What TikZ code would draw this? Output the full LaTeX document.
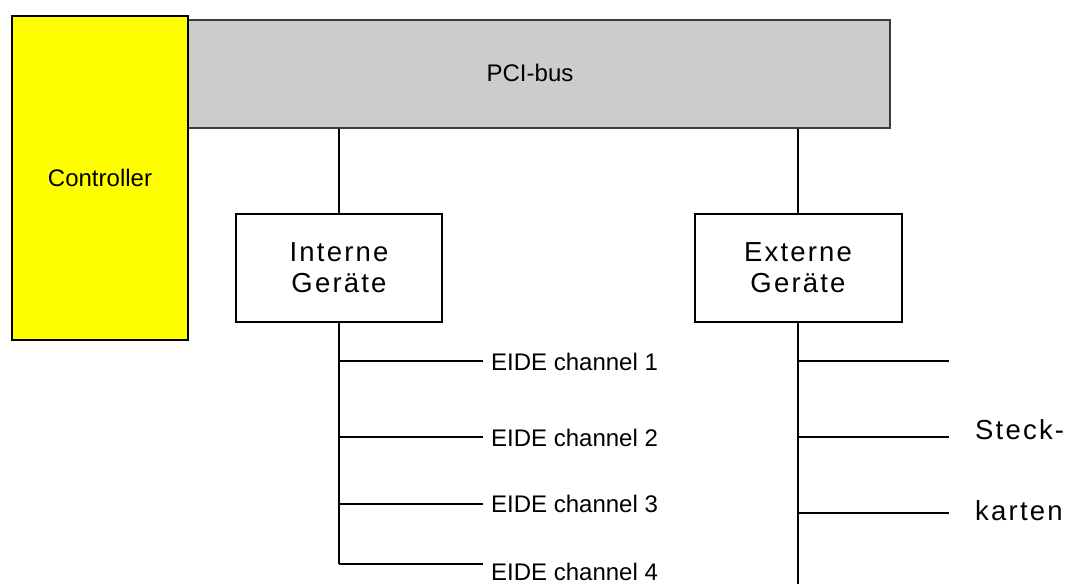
\documentclass[tikz,border=0pt]{standalone}
\usepackage{fontspec}
\setmainfont{Liberation Sans}
\newfontfamily\widefont[LetterSpace=8]{Liberation Sans}
\definecolor{pcigray}{RGB}{204,204,204}
\definecolor{pciedge}{RGB}{60,60,60}
\definecolor{ctrlyellow}{RGB}{255,255,0}
\begin{document}
\begin{tikzpicture}[x=1pt,y=-1pt,
  wire/.style={line width=2pt, draw=black},
  small/.style={font=\fontsize{24}{28}\selectfont},
  big/.style={font=\widefont\fontsize{27.5}{31}\selectfont},
  devbox/.style={draw=black, line width=2pt, fill=white, minimum width=206pt,
    minimum height=108pt, align=center, inner sep=0pt, big},
  lbl/.style={small, anchor=base west, inner sep=0pt},
  biglbl/.style={big, anchor=base west, inner sep=0pt},
]
\useasboundingbox (0,0) rectangle (1068,584);

% bus and controller
\node[draw=pciedge, line width=2pt, fill=pcigray, minimum width=702pt,
  minimum height=108pt, inner sep=0pt] (pci) at (539,74) {};
\node[small] (pcilabel) at (530,73) {PCI-bus};
\node[draw=black, line width=2pt, fill=ctrlyellow, minimum width=176pt,
  minimum height=324pt, inner sep=0pt, small] (ctrl) at (100,178) {Controller};

% device groups
\node[devbox] (intern) at (339,268) {Interne\\Geräte};
\node[devbox, minimum width=207pt] (extern) at (798,268) {Externe\\Geräte};

\draw[wire] (pci.south -| intern.north) -- (intern.north);
\draw[wire] (pci.south -| extern.north) -- (extern.north);

% internal EIDE channels
\coordinate (l1) at (339,361);
\coordinate (l2) at (339,437);
\coordinate (l3) at (339,504);
\coordinate (l4) at (339,564);
\coordinate (le1) at (483,361);
\coordinate (le2) at (483,437);
\coordinate (le3) at (483,504);
\coordinate (le4) at (483,564);
\draw[wire] (intern.south) -- (l4);
\draw[wire] (l1) -- (le1);
\draw[wire] (l2) -- (le2);
\draw[wire] (l3) -- (le3);
\draw[wire] (l4) -- (le4);
\node[lbl] (eide1) at (491,370) {EIDE channel 1};
\node[lbl] (eide2) at (491,446) {EIDE channel 2};
\node[lbl] (eide3) at (491,512) {EIDE channel 3};
\node[lbl] (eide4) at (491,580) {EIDE channel 4};

% external slots
\coordinate (rbot) at (798,584);
\coordinate (r1) at (798,361);
\coordinate (r2) at (798,437);
\coordinate (r3) at (798,513);
\coordinate (re1) at (949,361);
\coordinate (re2) at (949,437);
\coordinate (re3) at (949,513);
\draw[wire] (extern.south) -- (rbot);
\draw[wire] (r1) -- (re1);
\draw[wire] (r2) -- (re2);
\draw[wire] (r3) -- (re3);
\node[biglbl] (steck) at (975,439) {Steck-};
\node[biglbl] (karten) at (975,520) {karten};
\end{tikzpicture}
\end{document}
